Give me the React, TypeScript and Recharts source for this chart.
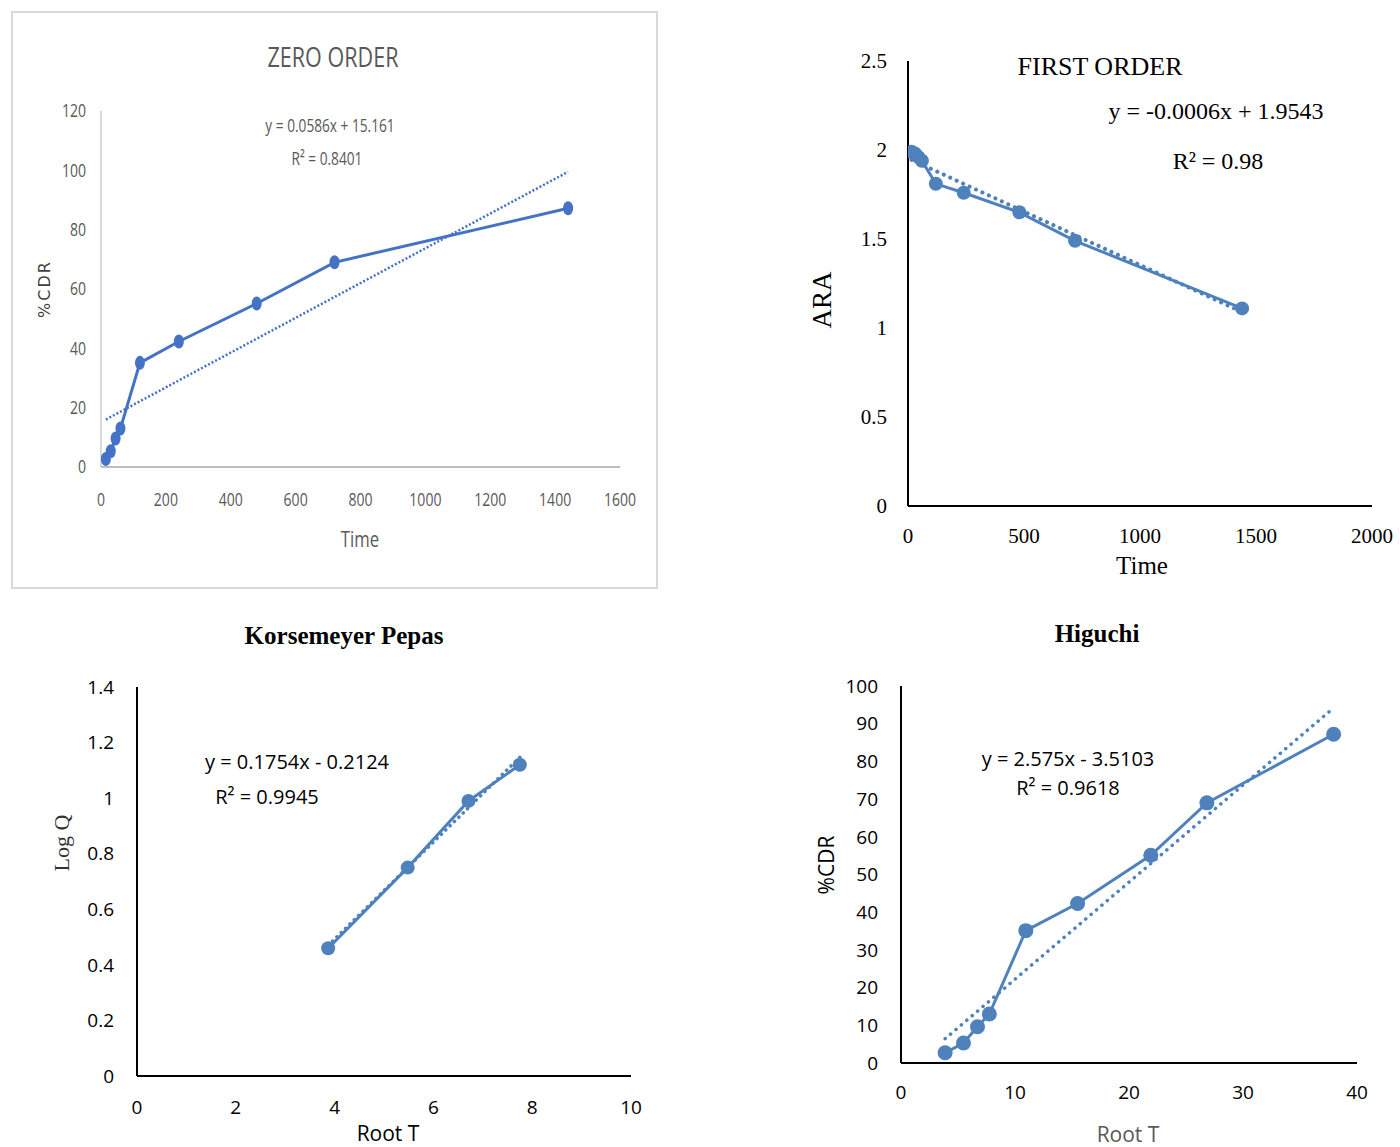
import React from "react";
import { LineChart, Line, XAxis, YAxis } from "recharts";

// ---- data ----
const timeMin = [15, 30, 45, 60, 120, 240, 480, 720, 1440];
const cdr = [2.7, 5.3, 9.6, 13.0, 35.1, 42.3, 55.1, 69.0, 87.2];
const ara = [1.99, 1.98, 1.96, 1.94, 1.81, 1.76, 1.65, 1.49, 1.11];
const rootT = [3.87, 5.48, 6.71, 7.75, 10.95, 15.49, 21.91, 26.83, 37.95];
const logQ = [0.46, 0.75, 0.99, 1.12];

const zeroTrendX = [15, 1440];
const zeroTrendY = [16.0, 99.5];
const firstTrendX = [15, 1440];
const firstTrendY = [1.945, 1.09];
const kpTrendX = [3.87, 7.75];
const kpTrendY = [0.47, 1.147];
const higTrendX = [3.87, 37.95];
const higTrendY = [6.45, 94.2];

const zeroXTicks = [0, 200, 400, 600, 800, 1000, 1200, 1400, 1600];
const zeroYTicks = [0, 20, 40, 60, 80, 100, 120];
const firstXTicks = [0, 500, 1000, 1500, 2000];
const firstYTicks = [0, 0.5, 1, 1.5, 2, 2.5];
const kpXTicks = [0, 2, 4, 6, 8, 10];
const kpYTicks = [0, 0.2, 0.4, 0.6, 0.8, 1, 1.2, 1.4];
const higXTicks = [0, 10, 20, 30, 40];
const higYTicks = [0, 10, 20, 30, 40, 50, 60, 70, 80, 90, 100];

const zip = (xs: number[], ys: number[]) => ys.map((y, i) => ({ x: xs[i], y }));

const zeroData = zip(timeMin, cdr);
const firstData = zip(timeMin, ara);
const kpData = zip(rootT, logQ);
const higData = zip(rootT, cdr);

const NARROW = "'Liberation Sans Narrow', 'Open Sans', sans-serif";
const SERIF = "'Liberation Serif', 'Times New Roman', serif";
const SANS = "'Open Sans', 'Noto Sans', sans-serif";

const BLUE1 = "#4472C4";
const BLUE2 = "#4F81BD";

type Box = { x: number; y: number; w: number; h: number };
type Plot = { l: number; t: number; r: number; b: number };

const YW = 60;
const XH = 40;
const margins = (box: Box, plot: Plot) => ({
  left: plot.l - box.x - YW,
  right: box.x + box.w - plot.r,
  top: plot.t - box.y,
  bottom: box.y + box.h - plot.b - XH,
});

const Txt = ({
  x, y, children, size, font, color = "#000", weight = 400, rotate = false, spacing = 0, sx = 1,
}: any) => (
  <div
    style={{
      position: "absolute",
      left: x,
      top: y,
      transform: `translate(-50%, -50%)${rotate ? " rotate(-90deg)" : ""}${sx !== 1 ? ` scaleX(${sx})` : ""}`,
      fontSize: size,
      fontFamily: font,
      color,
      fontWeight: weight,
      whiteSpace: "nowrap",
      lineHeight: 1,
      letterSpacing: spacing,
    }}
  >
    {children}
  </div>
);

const ZeroDot = (props: any) => (
  <ellipse key={`zd-${props.index}`} cx={props.cx} cy={props.cy} rx={5} ry={7} fill={BLUE1} />
);

const ZeroTickX = (props: any) => {
  const { x, y, payload } = props;
  return (
    <g transform={`translate(${x},${y})`}>
      <text
        transform="scale(0.78,1)"
        textAnchor="middle"
        dy="0.71em"
        fontFamily={NARROW}
        fontSize={18}
        fill="#595959"
      >
        {payload.value}
      </text>
    </g>
  );
};

const ZeroTickY = (props: any) => {
  const { x, y, payload } = props;
  return (
    <g transform={`translate(${x},${y})`}>
      <text
        transform="scale(0.78,1)"
        textAnchor="end"
        dy="0.355em"
        fontFamily={NARROW}
        fontSize={18}
        fill="#595959"
      >
        {payload.value}
      </text>
    </g>
  );
};

function Panel({
  box, plot, xDomain, yDomain, xTicks, yTicks, data, trend, color, dot, lineWidth,
  axisColor, xAxisWidth, yAxisWidth, tickFont, tickSize, tickColor, xTickMargin, yTickMargin,
  trendDash, trendWidth, trendCap, xTick, yTick,
}: any) {
  const tickStyle = { fontFamily: tickFont, fontSize: tickSize, fill: tickColor };
  return (
    <div style={{ position: "absolute", left: box.x, top: box.y, width: box.w, height: box.h }}>
      <LineChart width={box.w} height={box.h} margin={margins(box, plot)}>
        <XAxis
          type="number"
          dataKey="x"
          domain={xDomain}
          ticks={xTicks}
          allowDataOverflow
          height={XH}
          tickLine={false}
          axisLine={{ stroke: axisColor, strokeWidth: xAxisWidth }}
          tick={xTick || tickStyle}
          tickMargin={xTickMargin}
          interval={0}
        />
        <YAxis
          type="number"
          dataKey="y"
          domain={yDomain}
          ticks={yTicks}
          allowDataOverflow
          width={YW}
          tickLine={false}
          axisLine={{ stroke: axisColor, strokeWidth: yAxisWidth }}
          tick={yTick || tickStyle}
          tickMargin={yTickMargin}
          interval={0}
        />
        <Line
          data={trend}
          dataKey="y"
          stroke={color}
          strokeWidth={trendWidth}
          strokeDasharray={trendDash}
          strokeLinecap={trendCap}
          dot={false}
          activeDot={false}
          isAnimationActive={false}
        />
        <Line
          data={data}
          dataKey="y"
          stroke={color}
          strokeWidth={lineWidth}
          dot={dot}
          activeDot={false}
          isAnimationActive={false}
        />
      </LineChart>
    </div>
  );
}

export default function App() {
  return (
    <div style={{ position: "absolute", left: 0, top: 0, width: 1400, height: 1147, background: "#fff", overflow: "hidden" }}>
      {/* Zero order frame */}
      <div
        style={{
          position: "absolute",
          left: 11,
          top: 11,
          width: 643,
          height: 574,
          border: "2px solid #d9d9d9",
        }}
      />
      <Panel
        box={{ x: 0, y: 0, w: 700, h: 600 }}
        plot={{ l: 101, t: 111, r: 620, b: 467 }}
        xDomain={[0, 1600]}
        yDomain={[0, 120]}
        xTicks={zeroXTicks}
        yTicks={zeroYTicks}
        data={zeroData}
        trend={zip(zeroTrendX, zeroTrendY)}
        color={BLUE1}
        dot={ZeroDot}
        lineWidth={3}
        axisColor="#bfbfbf"
        xAxisWidth={2}
        yAxisWidth={1.2}
        tickFont={NARROW}
        tickSize={18}
        tickColor="#595959"
        xTickMargin={20}
        yTickMargin={9}
        xTick={ZeroTickX}
        yTick={ZeroTickY}
        trendDash="2 2"
        trendWidth={2.5}
        trendCap="butt"
      />
      <Txt x={333} y={56} size={28} font={NARROW} color="#595959" sx={0.77}>ZERO ORDER</Txt>
      <Txt x={330} y={125} size={19} font={NARROW} color="#595959" sx={0.72}>y = 0.0586x + 15.161</Txt>
      <Txt x={327} y={158} size={19} font={NARROW} color="#595959" sx={0.72}>R² = 0.8401</Txt>
      <Txt x={45} y={289} size={16} font="'DejaVu Sans', sans-serif" color="#404040" rotate spacing={2}>%CDR</Txt>
      <Txt x={360} y={538} size={22} font={NARROW} color="#595959" sx={0.76}>Time</Txt>

      {/* First order */}
      <Panel
        box={{ x: 700, y: 0, w: 700, h: 600 }}
        plot={{ l: 908, t: 61, r: 1372, b: 506 }}
        xDomain={[0, 2000]}
        yDomain={[0, 2.5]}
        xTicks={firstXTicks}
        yTicks={firstYTicks}
        data={firstData}
        trend={zip(firstTrendX, firstTrendY)}
        color={BLUE2}
        dot={{ r: 7, fill: BLUE2, stroke: BLUE2, strokeWidth: 0 }}
        lineWidth={3}
        axisColor="#000"
        xAxisWidth={2}
        yAxisWidth={2}
        tickFont={SERIF}
        tickSize={21}
        tickColor="#000"
        xTickMargin={16}
        yTickMargin={15}
        trendDash="0.1 7"
        trendWidth={4}
        trendCap="round"
      />
      <Txt x={1100} y={67} size={26} font={SERIF}>FIRST ORDER</Txt>
      <Txt x={1216} y={111} size={24} font={SERIF}>y = -0.0006x + 1.9543</Txt>
      <Txt x={1218} y={161} size={24} font={SERIF}>R² = 0.98</Txt>
      <Txt x={822} y={300} size={27} font={SERIF} rotate>ARA</Txt>
      <Txt x={1142} y={565} size={25} font={SERIF}>Time</Txt>

      {/* Korsemeyer Pepas */}
      <Panel
        box={{ x: 0, y: 600, w: 700, h: 547 }}
        plot={{ l: 137, t: 687, r: 631, b: 1076 }}
        xDomain={[0, 10]}
        yDomain={[0, 1.4]}
        xTicks={kpXTicks}
        yTicks={kpYTicks}
        data={kpData}
        trend={zip(kpTrendX, kpTrendY)}
        color={BLUE2}
        dot={{ r: 7, fill: BLUE2, stroke: BLUE2, strokeWidth: 0 }}
        lineWidth={3}
        axisColor="#000"
        xAxisWidth={2}
        yAxisWidth={2}
        tickFont={SANS}
        tickSize={19}
        tickColor="#000"
        xTickMargin={19}
        yTickMargin={17}
        trendDash="0.1 6"
        trendWidth={3.5}
        trendCap="round"
      />
      <Txt x={344} y={635} size={25} font={SERIF} weight={700}>Korsemeyer Pepas</Txt>
      <Txt x={297} y={762} size={20} font={SANS}>y = 0.1754x - 0.2124</Txt>
      <Txt x={267} y={797} size={20} font={SANS}>R² = 0.9945</Txt>
      <Txt x={62} y={843} size={22} font={SERIF} color="#333" rotate>Log Q</Txt>
      <Txt x={388} y={1133} size={21} font={SANS}>Root T</Txt>

      {/* Higuchi */}
      <Panel
        box={{ x: 700, y: 600, w: 700, h: 547 }}
        plot={{ l: 901, t: 686, r: 1357, b: 1063 }}
        xDomain={[0, 40]}
        yDomain={[0, 100]}
        xTicks={higXTicks}
        yTicks={higYTicks}
        data={higData}
        trend={zip(higTrendX, higTrendY)}
        color={BLUE2}
        dot={{ r: 7.5, fill: BLUE2, stroke: BLUE2, strokeWidth: 0 }}
        lineWidth={3}
        axisColor="#000"
        xAxisWidth={2}
        yAxisWidth={2}
        tickFont={SANS}
        tickSize={19}
        tickColor="#000"
        xTickMargin={17}
        yTickMargin={17}
        trendDash="0.1 7"
        trendWidth={3.5}
        trendCap="round"
      />
      <Txt x={1097} y={633} size={25} font={SERIF} weight={700}>Higuchi</Txt>
      <Txt x={1068} y={759} size={20} font={SANS}>y = 2.575x - 3.5103</Txt>
      <Txt x={1068} y={788} size={20} font={SANS}>R² = 0.9618</Txt>
      <Txt x={826} y={865} size={21} font={SANS} rotate>%CDR</Txt>
      <Txt x={1128} y={1134} size={21} font={SANS} color="#595959">Root T</Txt>
    </div>
  );
}
